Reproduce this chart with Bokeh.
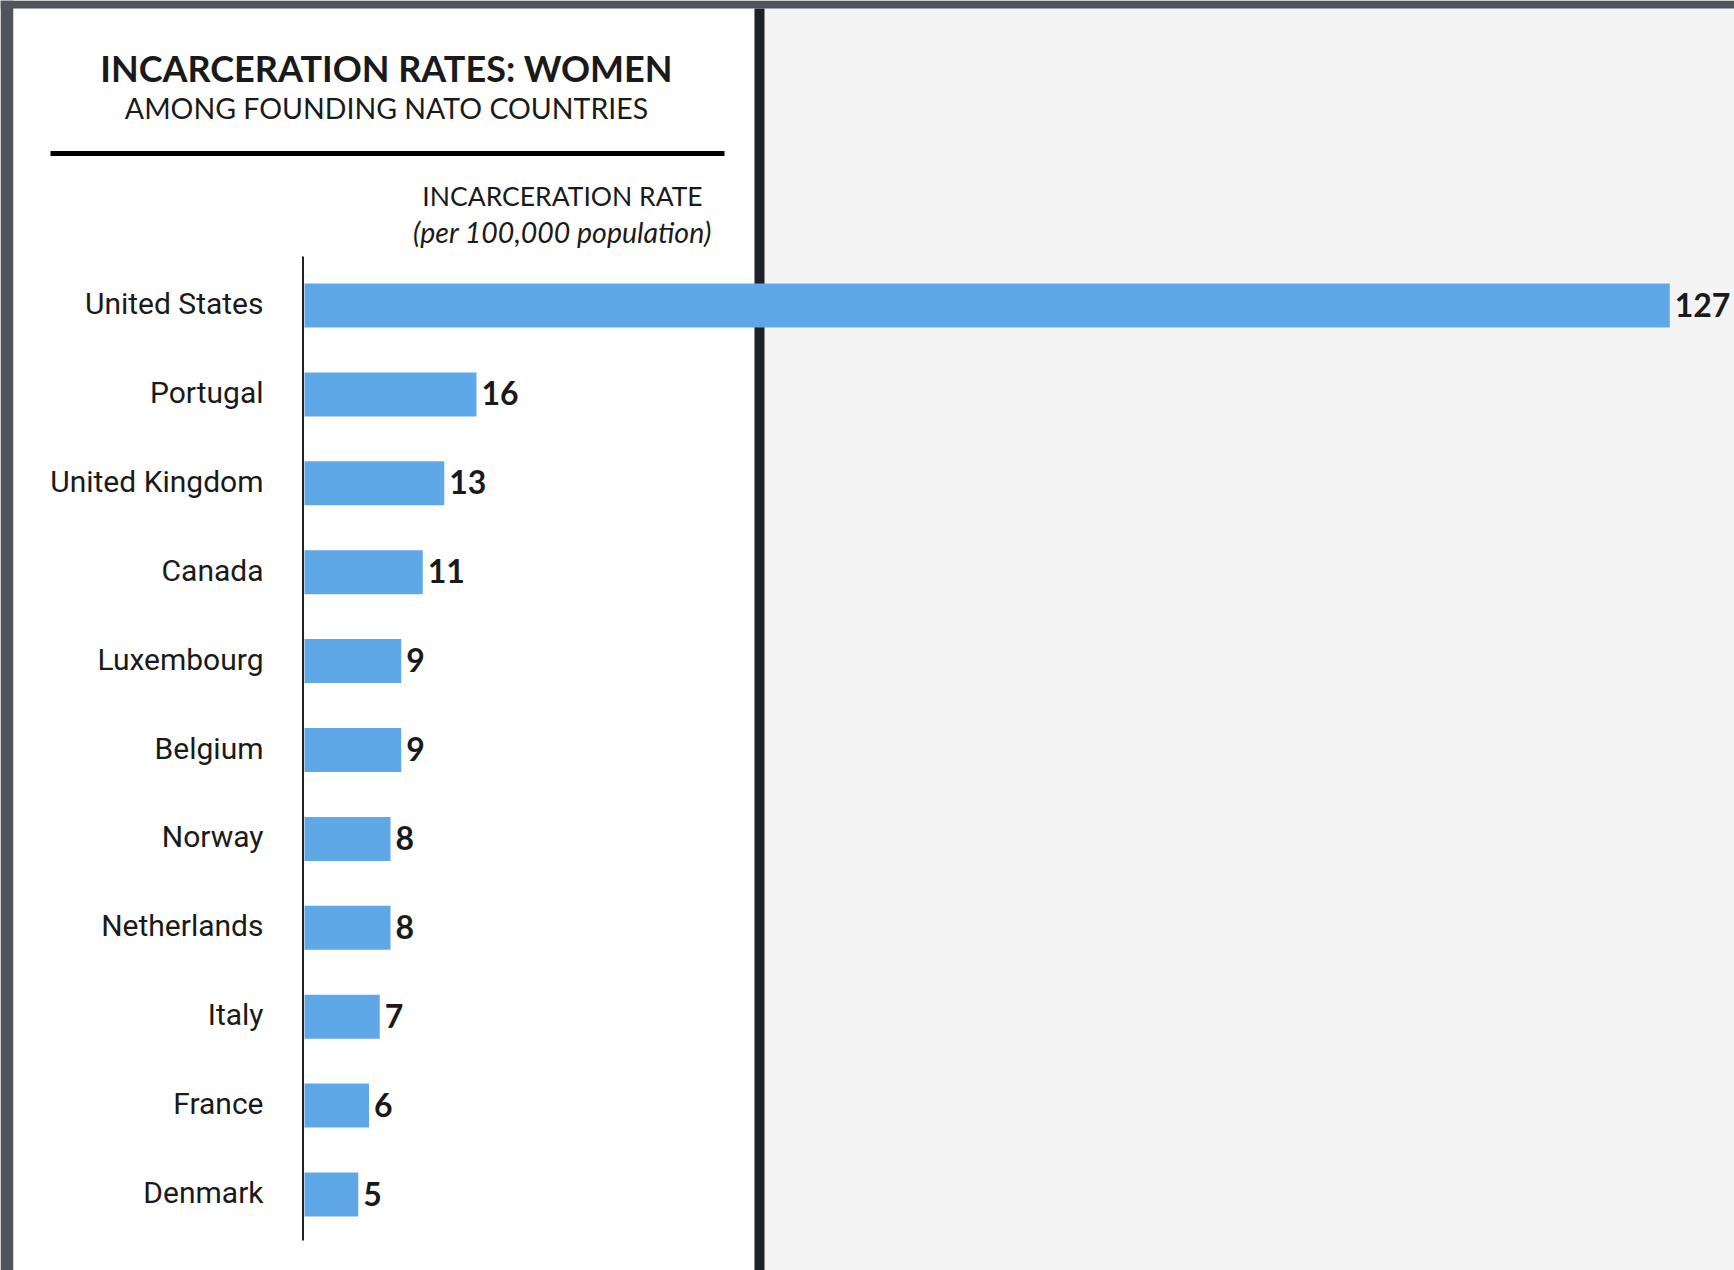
from bokeh.plotting import figure
from bokeh.models import Range1d, ColumnDataSource
from bokeh.core.properties import value
from bokeh.embed import file_html
from bokeh.resources import INLINE

# ---- data ----
countries = ["United States", "Portugal", "United Kingdom", "Canada", "Luxembourg",
             "Belgium", "Norway", "Netherlands", "Italy", "France", "Denmark"]
rates = [127, 16, 13, 11, 9, 9, 8, 8, 7, 6, 5]
rate_labels = [str(r) for r in rates]
title_text = "INCARCERATION RATES: WOMEN"
subtitle_text = "AMONG FOUNDING NATO COUNTRIES"
axis_title_text = "INCARCERATION RATE"
axis_unit_text = "(per 100,000 population)"

# ---- layout (page pixels) ----
W, H = 1734, 1270
PX_PER_UNIT = 10.75
ZERO_PX = 304
ROW_PX = 88.9
FIRST_ROW_PX = 305
n = len(countries)
rows = [n - 1 - i for i in range(n)]

y_end = (n - 1) + FIRST_ROW_PX / ROW_PX
y_start = y_end - H / ROW_PX
x_start = -ZERO_PX / PX_PER_UNIT
x_end = x_start + W / PX_PER_UNIT


def X(px):
    return x_start + px / PX_PER_UNIT


def Y(py):
    return y_end - py / ROW_PX


p = figure(width=W, height=H, x_range=Range1d(x_start, x_end), y_range=Range1d(y_start, y_end),
           output_backend="svg", toolbar_location=None, min_border=0,
           x_axis_location=None, y_axis_location=None,
           background_fill_color="#f4f4f4", border_fill_color="#f4f4f4",
           outline_line_color=None)
p.grid.visible = False

# panels
DARK = "#50545c"
p.quad(left=X(0), right=X(13), top=y_end, bottom=y_start, color=DARK, line_color=None)
p.quad(left=X(13), right=X(754), top=Y(8), bottom=y_start, color="#ffffff", line_color=None)
p.quad(left=X(754), right=X(764), top=Y(8), bottom=y_start, color="#1e2226", line_color=None)
p.quad(left=x_start, right=x_end, top=y_end, bottom=Y(8), color=DARK, line_color=None)

# header
TXT = "#1a1a1a"
p.text(x=[X(386)], y=[Y(67)], text=[title_text], text_align="center", text_baseline="alphabetic",
       text_font=value("Lato"), text_font_style="bold", text_font_size="36px", text_color=TXT)
p.text(x=[X(386)], y=[Y(107)], text=[subtitle_text], text_align="center", text_baseline="alphabetic",
       text_font=value("Lato"), text_font_size="28.5px", text_color=TXT)
p.segment(x0=[X(50)], y0=[Y(153)], x1=[X(724)], y1=[Y(153)], line_width=5, line_color="#000000")
p.text(x=[X(562)], y=[Y(195)], text=[axis_title_text], text_align="center", text_baseline="alphabetic",
       text_font=value("Lato"), text_font_size="26.5px", text_color=TXT)
p.text(x=[X(562)], y=[Y(231)], text=[axis_unit_text], text_align="center", text_baseline="alphabetic",
       text_font=value("Lato"), text_font_style="italic", text_font_size="28.5px", text_color=TXT)

src = ColumnDataSource(dict(country=countries, rate=rates, label=rate_labels, row=rows))

# bars
p.hbar(y="row", left=0, right="rate", height=44 / ROW_PX, source=src,
       fill_color="#5ea8e7", line_color=None)

# axis line
p.segment(x0=[X(302.5)], y0=[Y(256)], x1=[X(302.5)], y1=[Y(1240)], line_width=2, line_color="#222222")

# category labels
p.text(x=0, y="row", text="country", source=src, x_offset=-41, y_offset=-2,
       text_align="right", text_baseline="middle",
       text_font=value("Roboto"), text_font_size="30px", text_color=TXT)

# value labels
p.text(x="rate", y="row", text="label", source=src, x_offset=5, y_offset=-1,
       text_align="left", text_baseline="middle",
       text_font=value("Lato"), text_font_style="bold", text_font_size="32px", text_color=TXT)

open("out.html", "w").write(file_html(p, INLINE))
